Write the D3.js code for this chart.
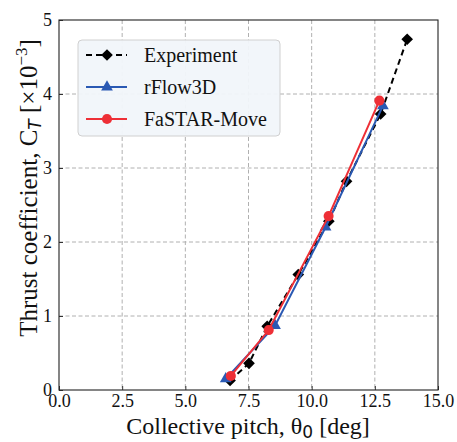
<!DOCTYPE html>
<html><head><meta charset="utf-8">
<script src="https://cdn.jsdelivr.net/npm/d3@7"></script>
<style>body{margin:0;background:#fff}svg{display:block}</style>
</head><body><svg id="c" width="457" height="442" font-family="Liberation Serif"></svg>
<script>
const expX = [6.77, 7.52, 8.24, 9.47, 10.68, 11.38, 12.73, 13.78];
const expY = [0.13, 0.36, 0.86, 1.56, 2.28, 2.82, 3.73, 4.74];
const rfX = [6.6, 8.55, 10.55, 12.82];
const rfY = [0.15, 0.87, 2.2, 3.84];
const faX = [6.8, 8.3, 10.67, 12.68];
const faY = [0.19, 0.81, 2.35, 3.91];
const xTicks = [0, 2.5, 5, 7.5, 10, 12.5, 15];
const yTicks = [0, 1, 2, 3, 4, 5];
const series = [
  {name:"Experiment", xs:expX, ys:expY, color:"#000", dash:"6,4", marker:"diamond"},
  {name:"rFlow3D", xs:rfX, ys:rfY, color:"#2a59b3", dash:null, marker:"triangle"},
  {name:"FaSTAR-Move", xs:faX, ys:faY, color:"#ee2f36", dash:null, marker:"circle"}
];
const SERIF = "Liberation Serif";
const svg = d3.select("#c");
const L=59,R=438,T=20,B=390;
const x = d3.scaleLinear().domain([0,15]).range([L,R]);
const y = d3.scaleLinear().domain([0,5]).range([B,T]);
const g = svg.append("g");
g.selectAll(".gx").data(xTicks.slice(1,-1)).enter().append("line")
 .attr("x1",d=>x(d)).attr("x2",d=>x(d)).attr("y1",T).attr("y2",B)
 .attr("stroke","#b0b0b0").attr("stroke-width",1).attr("stroke-dasharray","4,2.5");
g.selectAll(".gy").data(yTicks.slice(1,-1)).enter().append("line")
 .attr("y1",d=>y(d)).attr("y2",d=>y(d)).attr("x1",L).attr("x2",R)
 .attr("stroke","#b0b0b0").attr("stroke-width",1).attr("stroke-dasharray","4,2.5");
const xa = svg.append("g").attr("transform",`translate(0,${B})`)
 .call(d3.axisBottom(x).tickValues(xTicks).tickFormat(d3.format(".1f")).tickSizeInner(-4).tickSizeOuter(0).tickPadding(4));
const ya = svg.append("g").attr("transform",`translate(${L},0)`)
 .call(d3.axisLeft(y).tickValues(yTicks).tickFormat(d3.format("d")).tickSizeInner(-4).tickSizeOuter(0).tickPadding(7));
[xa,ya].forEach(a=>{a.attr("font-family",SERIF);a.select(".domain").remove();a.selectAll("text").attr("font-family",SERIF).attr("font-size",18).attr("fill","#111");a.selectAll("line").attr("stroke","#333");});
svg.append("rect").attr("x",L).attr("y",T).attr("width",R-L).attr("height",B-T)
 .attr("fill","none").attr("stroke","#222").attr("stroke-width",1.1);
const line = d3.line();
const sym = {diamond:d3.symbolSquare, triangle:d3.symbolTriangle, circle:d3.symbolCircle};
const size = {diamond:68, triangle:60, circle:80};
const rot = m => m==="diamond" ? " rotate(45)" : "";
series.forEach(s=>{
  const pts = s.xs.map((v,i)=>[x(v),y(s.ys[i])]);
  svg.append("path").attr("d",line(pts)).attr("fill","none").attr("stroke",s.color)
   .attr("stroke-width",2).attr("stroke-dasharray",s.dash);
  svg.selectAll(null).data(pts).enter().append("path")
   .attr("d",d3.symbol().type(sym[s.marker]).size(size[s.marker]))
   .attr("transform",d=>`translate(${d[0]},${d[1]})`+rot(s.marker))
   .attr("fill",s.color);
});
const lg = svg.append("g");
lg.append("rect").attr("x",78).attr("y",40).attr("width",202).attr("height",96).attr("rx",4)
 .attr("fill","#f1f6fa").attr("fill-opacity",0.95).attr("stroke","#d0d0d0").attr("stroke-width",1);
series.forEach((s,i)=>{
  const yy = 55+i*32;
  lg.append("line").attr("x1",86).attr("x2",127).attr("y1",yy).attr("y2",yy)
   .attr("stroke",s.color).attr("stroke-width",2).attr("stroke-dasharray",s.dash);
  lg.append("path").attr("d",d3.symbol().type(sym[s.marker]).size(size[s.marker]))
   .attr("transform",`translate(107,${yy})`+rot(s.marker)).attr("fill",s.color);
  lg.append("text").attr("x",144).attr("y",yy+7).attr("font-family",SERIF).attr("font-size",20).attr("fill","#111").text(s.name);
});
const xl = svg.append("text").attr("x",248).attr("y",434).attr("text-anchor","middle").attr("font-family",SERIF).attr("font-size",24).attr("fill","#111");
xl.append("tspan").text("Collective pitch, θ");
xl.append("tspan").attr("dy",4).attr("font-size",17).attr("font-family","DejaVu Sans").text("0");
xl.append("tspan").attr("dy",-4).text(" [deg]");
const yl = svg.append("text").attr("transform","translate(37,188) rotate(-90)").attr("text-anchor","middle").attr("font-family",SERIF).attr("font-size",25).attr("fill","#111");
yl.append("tspan").text("Thrust coefficient, C");
yl.append("tspan").attr("dy",4).attr("font-size",17).attr("font-style","italic").attr("font-family","DejaVu Sans").text("T");
yl.append("tspan").attr("dy",-4).text(" [×10");
yl.append("tspan").attr("dy",-10).attr("font-size",17).text("−3");
yl.append("tspan").attr("dy",10).text("]");
</script></body></html>
